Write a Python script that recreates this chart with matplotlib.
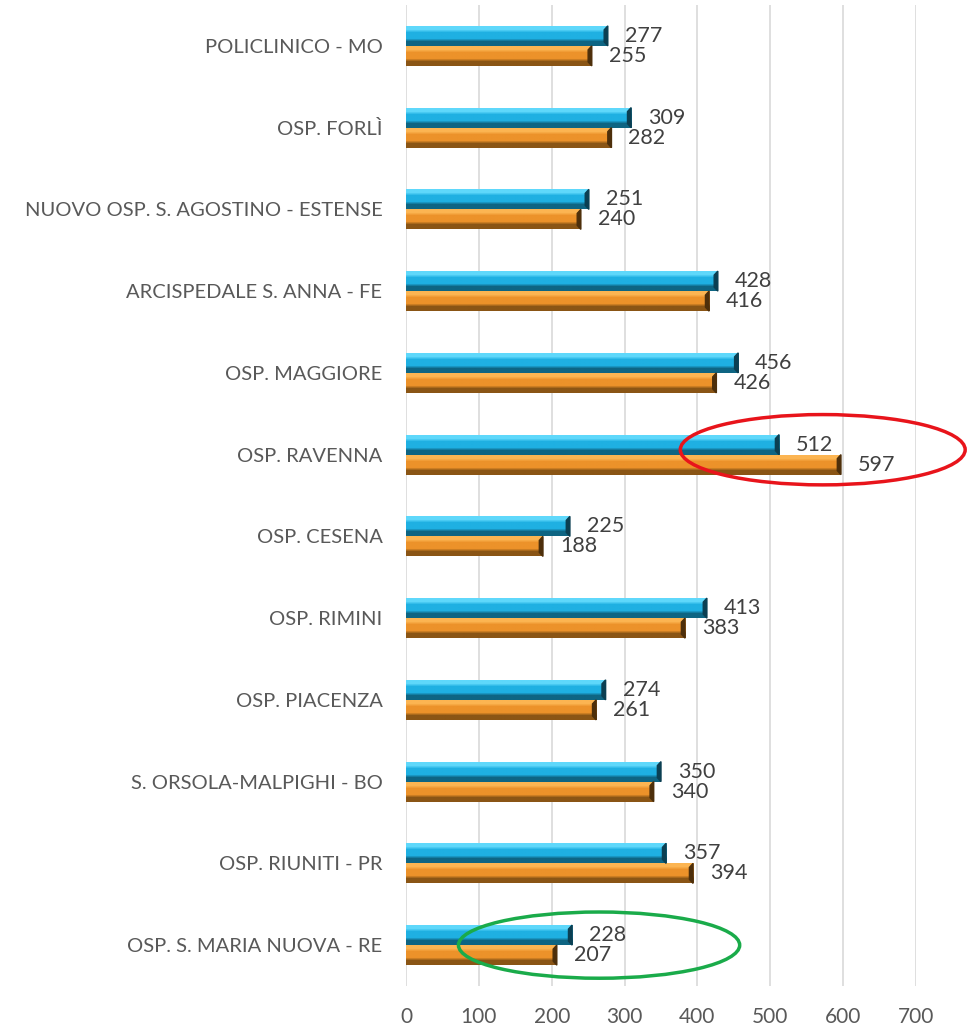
import numpy as np
import matplotlib
matplotlib.use("Agg")
import matplotlib.pyplot as plt
from matplotlib.patches import Ellipse, Polygon
from matplotlib.colors import to_rgb

# data, top to bottom as in the chart
hospitals = [
    "POLICLINICO - MO",
    "OSP. FORLÌ",
    "NUOVO OSP. S. AGOSTINO - ESTENSE",
    "ARCISPEDALE S. ANNA - FE",
    "OSP. MAGGIORE",
    "OSP. RAVENNA",
    "OSP. CESENA",
    "OSP. RIMINI",
    "OSP. PIACENZA",
    "S. ORSOLA-MALPIGHI - BO",
    "OSP. RIUNITI - PR",
    "OSP. S. MARIA NUOVA - RE",
]
blue_vals = [277, 309, 251, 428, 456, 512, 225, 413, 274, 350, 357, 228]
orange_vals = [255, 282, 240, 416, 426, 597, 188, 383, 261, 340, 394, 207]
xticks = [0, 100, 200, 300, 400, 500, 600, 700]

plt.rcParams['font.family'] = ['Lato', 'DejaVu Sans']

fig = plt.figure(figsize=(9.67, 10.27), dpi=100)
ax = fig.add_axes([406 / 967, 1 - 986 / 1027, 510 / 967, 981 / 1027])

y = np.arange(len(hospitals))
h = 0.245


def bevel_bars(ypos, vals, top, mid, bottom, edge):
    bars = ax.barh(ypos, vals, height=h, color=mid, zorder=3)
    grad = np.array([to_rgb(top), to_rgb(top), to_rgb(mid), to_rgb(mid),
                     to_rgb(mid), to_rgb(bottom), to_rgb(bottom)])
    grad = grad.reshape(-1, 1, 3)
    for b in bars:
        x0, y0 = b.get_x(), b.get_y()
        w, hh = b.get_width(), b.get_height()
        im = ax.imshow(grad, extent=[x0, x0 + w, y0 + hh, y0], aspect='auto',
                       interpolation='bilinear', zorder=4)
        im.set_clip_path(b)
        # dark chamfer at the bar end
        dx, dy = 5, hh * 0.2
        ax.add_patch(Polygon([(x0 + w - dx, y0 + dy), (x0 + w, y0),
                              (x0 + w, y0 + hh), (x0 + w - dx, y0 + hh - dy)],
                             closed=True, color=edge, zorder=5))
    return bars


bevel_bars(y - h / 2, blue_vals, '#5fd8fb', '#1fb0e2', '#0e6583', '#0b3f52')
bevel_bars(y + h / 2, orange_vals, '#fcb552', '#ec922a', '#8a5515', '#4d2f0b')

for i in range(len(hospitals)):
    ax.annotate(str(blue_vals[i]), (blue_vals[i], y[i] - h / 2), xytext=(17, 0),
                textcoords='offset pixels', va='center', ha='left',
                fontsize=15.5, color='#404040')
    ax.annotate(str(orange_vals[i]), (orange_vals[i], y[i] + h / 2), xytext=(17, 0),
                textcoords='offset pixels', va='center', ha='left',
                fontsize=15.5, color='#404040')

# highlight ellipses
ax.add_patch(Ellipse((572, 4.94), 391, 0.86, fill=False, edgecolor='#e8141b',
                     lw=2.5, zorder=6, clip_on=False))
ax.add_patch(Ellipse((265, 11.0), 386, 0.81, fill=False, edgecolor='#1aab4a',
                     lw=2.5, zorder=6, clip_on=False))

ax.set_xlim(0, 700)
ax.set_ylim(len(hospitals) - 0.5, -0.5)
ax.set_xticks(xticks)
ax.set_yticks(y)
ax.set_yticklabels(hospitals)
ax.grid(axis='x', color='#d9d9d9', lw=1.2, zorder=0)
ax.set_axisbelow(True)
for s in ax.spines.values():
    s.set_visible(False)
ax.tick_params(axis='y', length=0, pad=17, labelsize=14.5, labelcolor='#595959')
ax.tick_params(axis='x', length=0, pad=15, labelsize=15, labelcolor='#595959')

fig.savefig("out.png", dpi=100)
